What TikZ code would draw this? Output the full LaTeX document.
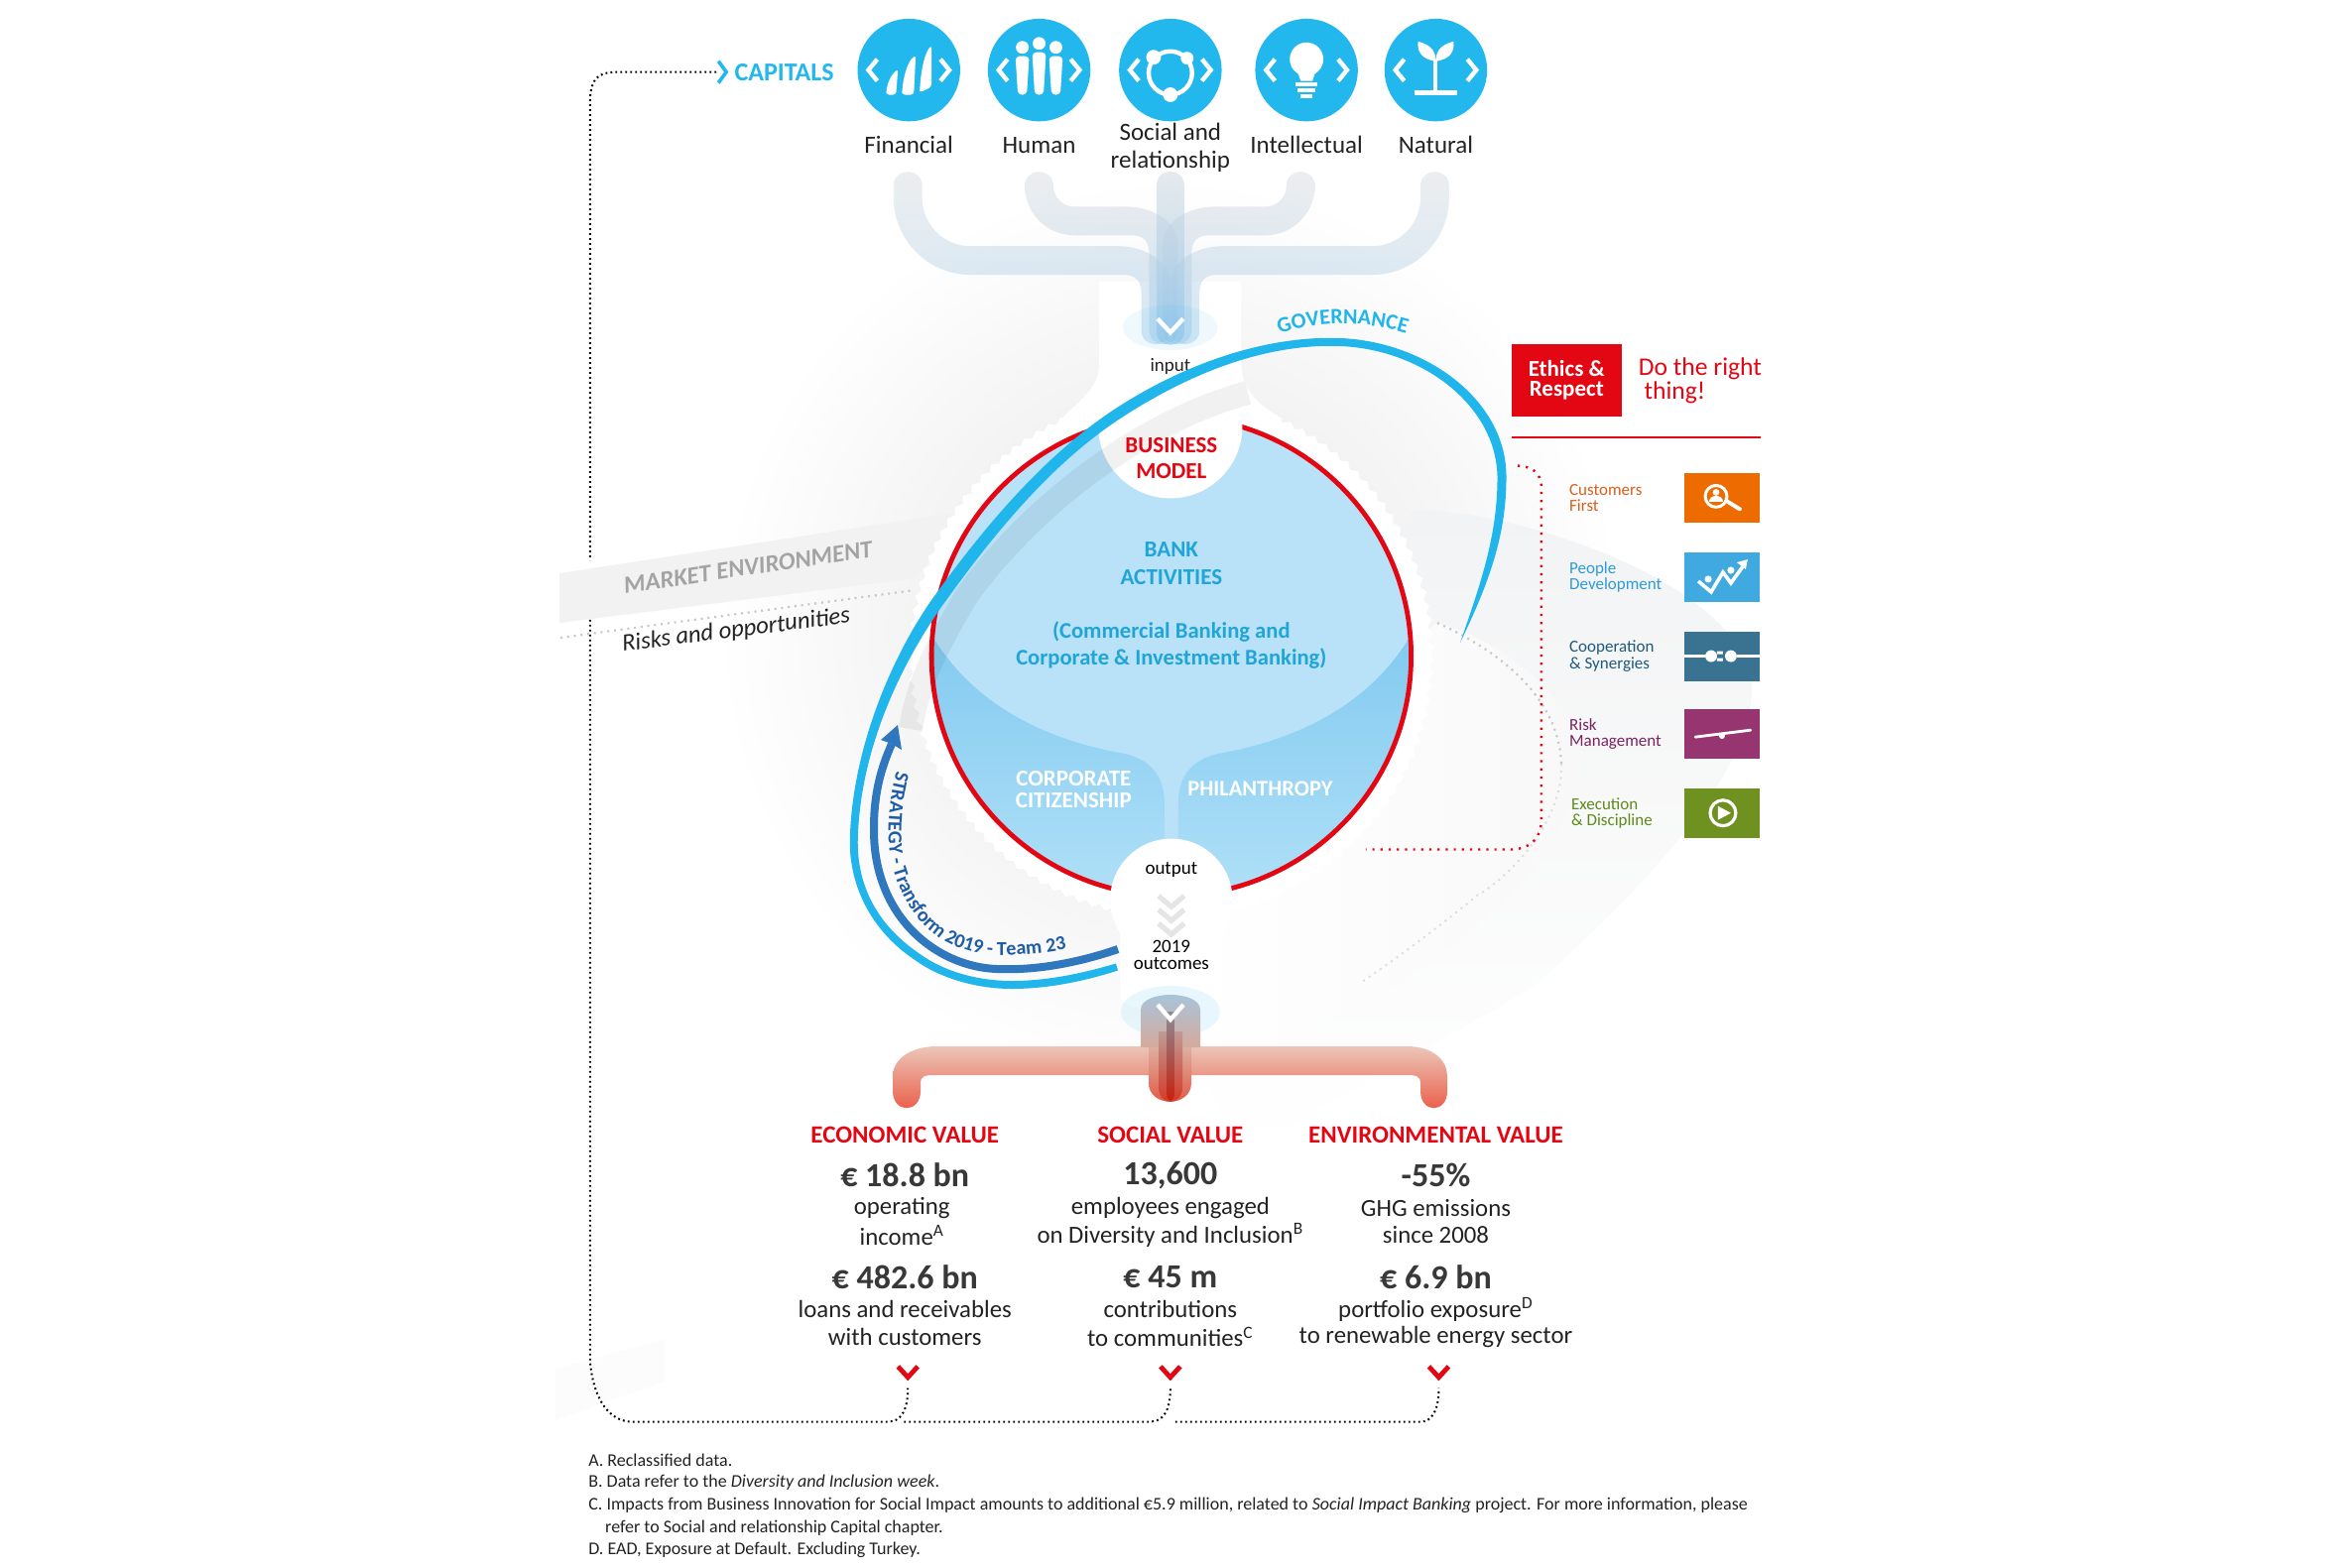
\documentclass[tikz,border=0pt]{standalone}
\usepackage{fontspec}
\setmainfont{Carlito}
\usetikzlibrary{decorations.text,decorations.pathmorphing,calc}
\definecolor{capblue}{HTML}{22B8EE}
\definecolor{gov}{HTML}{20B6EC}
\definecolor{strat}{HTML}{2F78BE}
\definecolor{strattxt}{HTML}{1E5CA6}
\definecolor{ured}{HTML}{E30613}
\definecolor{lightbowl}{HTML}{B9E1F8}
\definecolor{lowtop}{HTML}{82CAF0}
\definecolor{lowbot}{HTML}{B0E0F7}
\definecolor{txtdark}{HTML}{222222}
\definecolor{bgrey}{HTML}{F2F3F4}
\definecolor{bgin}{HTML}{F8F8F8}
\definecolor{pa}{HTML}{D2D5D9}
\definecolor{pb}{HTML}{CFDFEB}
\definecolor{pc}{HTML}{96C8EC}
\definecolor{pd}{HTML}{D5DBE0}
\definecolor{pe}{HTML}{8CC3EB}
\definecolor{ra}{HTML}{EBC6B8}
\definecolor{rb}{HTML}{EB5844}
\definecolor{rc}{HTML}{A4C6E0}
\definecolor{rd}{HTML}{D6AA9B}
\definecolor{re}{HTML}{DEAFA0}
\definecolor{rf}{HTML}{E2523E}
\definecolor{rg}{HTML}{BE9B96}
\definecolor{rh}{HTML}{D7321E}
\definecolor{ri}{HTML}{8C8C96}
\definecolor{rj}{HTML}{C81E0A}
\definecolor{orangeb}{HTML}{EE6B00}
\definecolor{blueb}{HTML}{3FA9E0}
\definecolor{tealb}{HTML}{3A7391}
\definecolor{purpb}{HTML}{963570}
\definecolor{greenb}{HTML}{6E9120}
\definecolor{tA}{HTML}{D9601A}
\definecolor{tB}{HTML}{2E9BD6}
\definecolor{tC}{HTML}{1F5A7A}
\definecolor{tD}{HTML}{7B2463}
\definecolor{tE}{HTML}{5F8A1C}
\newcommand\fs[1]{\fontsize{#1}{#1}\selectfont}
\tikzset{
 vhead/.style={inner sep=0pt,align=center,text=ured,font=\fs{12.5}\bfseries},
 big/.style={inner sep=0pt,align=center,text=txtdark!90,font=\fs{17}\bfseries},
 desc/.style={inner sep=0pt,align=center,text=txtdark,font=\fs{12.4}},
 capl/.style={inner sep=0pt,align=center,text=txtdark,font=\fs{12.5}},
 foot/.style={inner sep=0pt,anchor=west,text=txtdark,font=\fs{9}},
 side/.style={inner sep=0pt,anchor=west,align=left,font=\fs{8.5}},
 blk/.style={black,line width=1pt,dash pattern=on .9pt off 1.6pt},
 reddot/.style={ured,line width=1.2pt,dash pattern=on 1.1pt off 3pt},
 gdot/.style={black!22,line width=1.1pt,dash pattern=on 1pt off 2.4pt},
 gdotb/.style={black!13,line width=1pt,dash pattern=on 1pt off 2.4pt},
 chev/.style={white,line width=2.2pt,line join=miter},
 rchev/.style={ured,line width=2.4pt,line join=miter},
 pchev/.style={black!10,line width=2.6pt,line join=miter},
 actual/.style={x=.5pt,y=-.5pt},
}
% pipe outline: style, x0, yh, xs, w, ytop, R, ybot
\newcommand\pipe[8]{%
 \pgfmathsetmacro\hw{#5/2}
 \pgfmathsetmacro\sg{ifthenelse(#4>#2,1,-1)}
 \pgfmathsetmacro\xA{#2-\sg*\hw}
 \pgfmathsetmacro\xB{#2+\sg*\hw}
 \pgfmathsetmacro\xC{#4-\sg*\hw}
 \pgfmathsetmacro\xD{#4+\sg*\hw}
 \pgfmathsetmacro\ra{#7-#5}
 \pgfmathsetmacro\yU{#3-\hw}
 \pgfmathsetmacro\yL{#3+\hw}
 \pgfmathsetmacro\yT{#6+\hw}
 \pgfmathsetmacro\yTT{#6-.33*\hw}
 \pgfmathsetmacro\yB{#8-\hw}
 \pgfmathsetmacro\yBB{#8+.33*\hw}
 \shade[#1] (\xA,\yT) .. controls (\xA,\yTT) and (\xB,\yTT) .. (\xB,\yT)
  -- (\xB,{\yU-\ra}) .. controls (\xB,{\yU-.45*\ra}) and ({\xB+\sg*.45*\ra},\yU) .. ({\xB+\sg*\ra},\yU)
  -- ({\xC-\sg*22},\yU) .. controls ({\xC-\sg*2},\yU) and (\xD,{\yU+12}) .. (\xD,{\yL+8})
  -- (\xD,\yB) .. controls (\xD,\yBB) and (\xC,\yBB) .. (\xC,\yB)
  -- (\xC,{\yL+18}) .. controls (\xC,{\yL+6}) and ({\xC-\sg*6},\yL) .. ({\xC-\sg*18},\yL)
  -- ({\xA+\sg*#7},\yL) .. controls ({\xA+\sg*.45*#7},\yL) and (\xA,{\yL-.45*#7}) .. (\xA,{\yL-#7}) -- cycle;
}
\begin{document}
\begin{tikzpicture}[x=.4974pt,y=-.4974pt]
\useasboundingbox (0,0) rectangle (2372.3,1588.3);
% ---------- background ----------
\shade[inner color=black!10,outer color=white] (1187,640) circle (460);
\begin{scope}[actual]
\shade[top color=bgrey,middle color=bgrey,bottom color=white] (1427,513) .. controls (1560,520) and (1770,600) .. (1766,699)
  .. controls (1760,790) and (1650,900) .. (1552,990)
  .. controls (1490,1030) and (1373,1092) .. (1253,1163)
  -- (1212,1082) -- (1200,800) -- cycle;
\shade[left color=white,right color=bgin] (1449,628) .. controls (1530,650) and (1595,720) .. (1592,766)
  .. controls (1590,850) and (1500,950) .. (1329,1036)
  -- (1205,1090) -- (1205,800) -- cycle;
\draw[gdot] (1449,628) .. controls (1530,665) and (1572,715) .. (1574,770);
\draw[gdotb] (1574,770) .. controls (1576,830) and (1520,885) .. (1489,903) .. controls (1450,935) and (1410,965) .. (1373,990);
\fill[black!1.3] (560,1380) -- (670,1350) -- (670,1393) -- (560,1432) -- cycle;
% market band
\fill[black!5] (564,578) -- (963,517) -- (925,583) -- (564,628) -- cycle;
\end{scope}
% ---------- ring and columns ----------
\fill[white,decorate,decoration={zigzag,segment length=7pt,amplitude=1.2pt}] (1187,665) circle (264);
\fill[white] (1114,285) -- (1114,370) .. controls (1112,395) and (1095,405) .. (1075,425) -- (1300,425) .. controls (1275,410) and (1258,395) .. (1258,370) -- (1258,285) -- cycle;
\fill[white] (1135,900) -- (1238,900) -- (1238,1010) .. controls (1238,1030) and (1135,1030) .. (1135,1010) -- cycle;
\begin{scope}[actual]
\coordinate (gda) at (565,643);
\coordinate (gdb) at (922,595);
\draw[gdot] (gda) -- (gdb);
\end{scope}
% black dotted return line
\coordinate (capEnd) at (726,73);
\coordinate (econ) at (920,1407);
\coordinate (soc) at (1186,1407);
\coordinate (env) at (1458,1407);
\draw[blk] (capEnd) -- (625,73) .. controls (606,73) and (599,80) .. (598,100) -- (598,568);
\draw[blk] (598,628) -- (598,1380) .. controls (601,1416) and (616,1441) .. (641,1441) -- (900,1441) .. controls (912,1441) and (920,1431) .. (econ);
\draw[blk] (916,1441) -- (1165,1441) .. controls (1178,1441) and (1186,1431) .. (soc);
\draw[blk] (1191,1441) -- (1440,1441) .. controls (1450,1441) and (1458,1431) .. (env);
% ---------- business oval ----------
\begin{scope}
 \clip (1187,665) circle (243);
 \fill[lightbowl] (900,400) rectangle (1470,930);
 \shade[top color=lowtop,bottom color=lowbot]
  (942,640) .. controls (985,715) and (1060,750) .. (1140,764) .. controls (1165,770) and (1180,785) .. (1180,815) -- (1180,910) -- (930,910) -- (930,640) -- cycle;
 \shade[top color=lowtop,bottom color=lowbot]
  (1432,640) .. controls (1389,715) and (1314,750) .. (1234,764) .. controls (1209,770) and (1194,785) .. (1194,815) -- (1194,910) -- (1444,910) -- (1444,640) -- cycle;
\end{scope}
\draw[ured,line width=2.4pt] (1187,665) circle (243);
\fill[white] (1186,432) circle (73);
\fill[white] (1187,912) circle (62);
\begin{scope}[actual]
\draw[black,opacity=.055,line width=12pt,line cap=butt] (1258,396) .. controls (1150,425) and (1040,510) .. (975,600) .. controls (945,650) and (925,690) .. (918,735);
\end{scope}
% ---------- top pipes ----------
\tikzset{gp/.style={top color=pa,middle color=pb,bottom color=pc,opacity=.42}}
\pipe{gp}{920}{264}{1171}{29}{174}{78}{349}
\pipe{gp}{1454}{264}{1201}{29}{174}{78}{349}
\pipe{gp}{1053}{224}{1179}{29}{174}{50}{349}
\pipe{gp}{1318}{224}{1193}{29}{174}{50}{349}
\shade[top color=pd,bottom color=pe,opacity=.6] (1172,188) .. controls (1172,169) and (1200,169) .. (1200,188) -- (1200,336) .. controls (1200,354) and (1172,354) .. (1172,336) -- cycle;
\fill[capblue,opacity=.07] (1186,332) ellipse (48 and 23);
\draw[chev] (1173,323) -- (1186,337) -- (1199,323);
% ---------- icons ----------
\foreach \cx/\nm/\lab in {921/cFin/Financial,1053/cHum/Human,1324/cInt/Intellectual,1455/cNat/Natural}{
 \node[capl] (\nm) at (\cx,147) {\lab};
}
\node[capl] (cSoc) at (1186,150) {Social and\\[1.5pt]relationship};
\foreach \cx in {921,1053,1186,1324,1455}{
 \fill[capblue] (\cx,71) circle (52);
 \draw[chev] ({\cx-32},60) -- ({\cx-41},71) -- ({\cx-32},82);
 \draw[chev] ({\cx+32},60) -- ({\cx+41},71) -- ({\cx+32},82);
}
% financial
\fill[white,rounded corners=1.5pt] (898,96) -- (908,96) -- (910,70) .. controls (903,76) and (899,84) .. (898,96) -- cycle;
\fill[white,rounded corners=1.5pt] (914,96) -- (926,96) -- (928,56) .. controls (920,62) and (915,78) .. (914,96) -- cycle;
\fill[white,rounded corners=1.5pt] (932,94) -- (944,88) -- (944,46) .. controls (937,54) and (933,72) .. (932,94) -- cycle;
% human
\foreach \dx/\yy in {-17/48,0/44,17/48}{
 \fill[white] ({1053+\dx},\yy) circle (6.5);
 \fill[white,rounded corners=2pt] ({1053+\dx-7},{\yy+9}) -- ({1053+\dx+7},{\yy+9}) -- ({1053+\dx+4.5},96) -- ({1053+\dx-4.5},96) -- cycle;
}
% social
\draw[white,line width=2.2pt] (1186,74) circle (22);
\fill[white] (1169,58) circle (7.5) (1203,59) circle (6.5) (1186,96) circle (7.5);
% bulb
\fill[white] (1324,60) circle (17);
\fill[white] (1314,70) -- (1334,70) -- (1330,82) -- (1318,82) -- cycle;
\draw[white,line width=2pt] (1313,85) -- (1335,85) (1315,91) -- (1333,91) (1318,97) -- (1330,97);
% plant
\draw[white,line width=2.2pt] (1433,94) -- (1477,94);
\draw[white,line width=2pt] (1455,94) -- (1455,60);
\fill[white] (1455,62) .. controls (1440,60) and (1436,52) .. (1437,42) .. controls (1448,45) and (1455,50) .. (1455,62) -- cycle;
\fill[white] (1455,62) .. controls (1470,60) and (1474,52) .. (1473,42) .. controls (1462,45) and (1455,50) .. (1455,62) -- cycle;
% capitals
\node[inner sep=0pt,anchor=west,text=capblue,font=\fs{13}\bfseries] (capt) at (744,73) {CAPITALS};
\coordinate (ca) at (728,62); \coordinate (cb) at (736,73); \coordinate (cc) at (728,84);
\draw[capblue,line width=1.8pt] (ca) -- (cb) -- (cc);
\node[inner sep=0pt,font=\fs{9.5},text=txtdark] (inp) at (1186,371) {input};
% ---------- market env text ----------
\node[inner sep=0pt,rotate=8.4,text=black!36,font=\fs{12.4}\bfseries\itshape] (mkt) at (758,575) {MARKET ENVIRONMENT};
\node[inner sep=0pt,rotate=7.2,text=txtdark,font=\fs{12.3}\itshape] (risk) at (746,639) {Risks and opportunities};
% ---------- oval text ----------
\node[inner sep=0pt,align=center,text=ured,font=\fs{11.5}\bfseries] (bm) at (1187,464) {BUSINESS\\[1.5pt]MODEL};
\node[inner sep=0pt,align=center,text=capblue!90!black,font=\fs{11.5}\bfseries] (bank) at (1187,571) {BANK\\[2.4pt]ACTIVITIES};
\node[inner sep=0pt,align=center,text=capblue!90!black,font=\fs{11.3}\bfseries] (comm) at (1187,654) {(Commercial Banking and\\[2.4pt]Corporate \& Investment Banking)};
\node[inner sep=0pt,align=center,text=white,font=\fs{11.5}\bfseries] (cc1) at (1088,800) {CORPORATE\\[-.2pt]CITIZENSHIP};
\node[inner sep=0pt,text=white,font=\fs{11.2}\bfseries] (phil) at (1277,799) {PHILANTHROPY};
\node[inner sep=0pt,font=\fs{9.5},text=black] (outp) at (1187,882) {output};
\foreach \yy in {908,922,936}{ \draw[pchev] (1174,\yy) -- (1187,{\yy+11}) -- (1200,\yy); }
\node[inner sep=0pt,align=center,font=\fs{9.5},text=black] (outc) at (1187,968) {2019\\[-1pt]outcomes};
% ---------- bottom pipes ----------
\begin{scope}[actual]
\fill[capblue,opacity=.1] (1180,1020) ellipse (50 and 26);
\shade[top color=ra,bottom color=rb]
 (900,1100) .. controls (900,1123) and (928,1123) .. (928,1100) -- (928,1092) .. controls (928,1086) and (931,1084) .. (941,1084)
 -- (1180,1084) -- (1180,1055) -- (945,1055) .. controls (915,1055) and (900,1070) .. (900,1085) -- cycle;
\shade[top color=ra,bottom color=rb]
 (1459,1100) .. controls (1459,1123) and (1432,1123) .. (1432,1100) -- (1432,1092) .. controls (1432,1086) and (1429,1084) .. (1419,1084)
 -- (1180,1084) -- (1180,1055) -- (1418,1055) .. controls (1446,1055) and (1459,1070) .. (1459,1085) -- cycle;
\shade[top color=rc,bottom color=rd]
 (1150,1056) -- (1150,1018) .. controls (1150,998) and (1210,998) .. (1210,1018) -- (1210,1056) -- cycle;
\shade[top color=re,bottom color=rf]
 (1158,1056) -- (1201,1056) -- (1201,1092) .. controls (1201,1117) and (1158,1117) .. (1158,1092) -- cycle;
\shade[top color=rg,bottom color=rh]
 (1168,1040) -- (1192,1040) -- (1192,1096) .. controls (1192,1116) and (1168,1116) .. (1168,1096) -- cycle;
\shade[top color=ri,bottom color=rj]
 (1176,1020) -- (1184,1020) -- (1184,1102) .. controls (1184,1112) and (1176,1112) .. (1176,1102) -- cycle;
\draw[chev] (1167,1013) -- (1180,1028) -- (1193,1013);
% ---------- governance ----------
\fill[gov] (1127,978.5)
 .. controls (1091,990) and (1055,997) .. (1020,997)
 .. controls (984,997) and (947,986) .. (922.7,968.2)
 .. controls (877,938) and (854,890) .. (857,840)
 .. controls (861,750) and (900,661.6) .. (938,606.6)
 .. controls (995,526.6) and (1057,455.4) .. (1127,410.4)
 .. controls (1197,365.4) and (1278,338) .. (1352,341)
 .. controls (1440,345) and (1518.5,405) .. (1518.5,480)
 .. controls (1519,540) and (1500,590) .. (1472,648)
 .. controls (1492,590) and (1510,540) .. (1509.5,480)
 .. controls (1508,410) and (1436,353) .. (1352,349)
 .. controls (1278,346) and (1203,374.6) .. (1133,419.6)
 .. controls (1063,464.6) and (1005,533.4) .. (948,613.4)
 .. controls (910,668.4) and (869,750) .. (865,840)
 .. controls (862,890) and (883,932) .. (927.3,961.8)
 .. controls (952,979.8) and (986,989) .. (1020,989)
 .. controls (1055,989) and (1089,982) .. (1125,971.5) -- cycle;
\path[decorate,decoration={text along path,text align=left,text={|\fs{11}\bfseries\color{gov}|GOVERNANCE}}]
 (1290,337) .. controls (1330,323) and (1380,323) .. (1424,338);
% ---------- strategy ----------
\draw[strat,line width=4pt] (1127,957) .. controls (1095,968) and (1050,979) .. (1005,977) .. controls (945,975) and (880,925) .. (881,835) .. controls (881,800) and (888,775) .. (899,750);
\fill[strat] (905,731) -- (909,756) -- (899,750) -- (888,746) -- cycle;
\path[decorate,decoration={text along path,text align=left,text={|\fs{10}\bfseries\color{strattxt}|STRATEGY - Transform 2019 - Team 23}}]
 (904,777) .. controls (895,810) and (893,850) .. (900,875) .. controls (908,905) and (929,943) .. (968,956) .. controls (987,963) and (1005,965) .. (1023,963) .. controls (1045,962) and (1065,960) .. (1095,952);
\end{scope}
% ---------- ethics ----------
\node[fill=ured,minimum width=55.5pt,minimum height=36.5pt,inner sep=0pt,align=center,text=white,font=\fs{11.5}\bfseries] (eth) at (1587.5,385.5) {Ethics \&\\[-1.5pt]Respect};
\node[inner sep=0pt,anchor=west,align=left,text=ured,font=\fs{12.8}] (right) at (1660,386) {Do the right\\[-1pt]\ thing!};
\coordinate (rl) at (1532,443); \coordinate (rr) at (1784,443);
\draw[ured,line width=.8pt] (rl) -- (rr);
\node[fill=orangeb,minimum width=38pt,minimum height=25pt,inner sep=0pt] (bA) at (1745.5,505) {};
\node[fill=blueb,minimum width=38pt,minimum height=25pt,inner sep=0pt] (bB) at (1745.5,585) {};
\node[fill=tealb,minimum width=38pt,minimum height=25pt,inner sep=0pt] (bC) at (1745.5,665) {};
\node[fill=purpb,minimum width=38pt,minimum height=25pt,inner sep=0pt] (bD) at (1745.5,744) {};
\node[fill=greenb,minimum width=38pt,minimum height=25pt,inner sep=0pt] (bE) at (1745.5,824) {};
\node[side,text=tA] (lA) at (1590,505) {Customers\\[-.4pt]First};
\node[side,text=tB] (lB) at (1590,585) {People\\[-.4pt]Development};
\node[side,text=tC] (lC) at (1590,665) {Cooperation\\[-.4pt]\& Synergies};
\node[side,text=tD] (lD) at (1590,744) {Risk\\[-.4pt]Management};
\node[side,text=tE] (lE) at (1592,824) {Execution\\[-.4pt]\& Discipline};
% box icons
\draw[white,line width=1.5pt] (1739,503) circle (11);
\fill[white] (1739,499) circle (3.4);
\fill[white] (1732,509) .. controls (1732,501) and (1746,501) .. (1746,509) -- cycle;
\draw[white,line width=2pt,line cap=round] (1750,508) -- (1763,516);
\draw[white,line width=1.8pt,line join=miter] (1721,589) -- (1734,600) -- (1746,580) -- (1754,591) -- (1767,573);
\fill[white] (1771,567) -- (1760,570) -- (1769,577) -- cycle;
\fill[white] (1731,587) circle (3.6) (1754,578) circle (3.6);
\draw[white,line width=1.2pt] (1707,665) -- (1728,665) (1760,665) -- (1784,665);
\fill[white,rounded corners=3pt] (1728,659) -- (1740,659) -- (1740,671) -- (1728,671) -- cycle;
\fill[white] (1740,660) rectangle (1746,663) (1740,667) rectangle (1746,670);
\fill[white,rounded corners=3pt] (1748,659) -- (1760,659) -- (1760,671) -- (1748,671) -- cycle;
\draw[white,line width=1.4pt,line cap=round] (1718,747) -- (1774,740);
\fill[white] (1745,746) circle (3);
\draw[white,line width=1.6pt] (1746,824) circle (13);
\fill[white] (1741,817) -- (1741,831) -- (1754,824) -- cycle;
% red dotted
\coordinate (rs) at (1538,472);
\coordinate (re) at (1384,861);
\draw[reddot] (rs) .. controls (1552,473) and (1562,478) .. (1562,495) -- (1562,830) .. controls (1562,852) and (1548,861) .. (1530,861) -- (re);
% ---------- bottom text ----------
\node[vhead] (h1) at (917,1150) {ECONOMIC VALUE};
\node[vhead] (h2) at (1186,1150) {SOCIAL VALUE};
\node[vhead] (h3) at (1455,1150) {ENVIRONMENTAL VALUE};
\node[big] (b1) at (917,1191) {€ 18.8 bn};
\node[big] (b2) at (1186,1191) {13,600};
\node[big] (b3) at (1455,1191) {-55\%};
\node[desc] (d1) at (914,1224) {operating};
\node[desc] (d1b) at (914,1252) {income\textsuperscript{A}};
\node[desc] (d2) at (1186,1224) {employees engaged};
\node[desc] (d2b) at (1186,1252) {on Diversity and Inclusion\textsuperscript{B}};
\node[desc] (d3) at (1455,1224) {GHG emissions};
\node[desc] (d3b) at (1455,1252) {since 2008};
\node[big] (e1) at (917,1294) {€ 482.6 bn};
\node[big] (e2) at (1186,1294) {€ 45 m};
\node[big] (e3) at (1455,1294) {€ 6.9 bn};
\node[desc] (f1) at (917,1327) {loans and receivables};
\node[desc] (f1b) at (917,1355) {with customers};
\node[desc] (f2) at (1186,1327) {contributions};
\node[desc] (f2b) at (1186,1355) {to communities\textsuperscript{C}};
\node[desc] (f3) at (1455,1327) {portfolio exposure\textsuperscript{D}};
\node[desc] (f3b) at (1455,1355) {to renewable energy sector};
\foreach \xx in {920,1186,1458}{ \draw[rchev] ({\xx-10},1385) -- (\xx,1396) -- ({\xx+10},1385); }
% ---------- footnotes ----------
\node[foot] (n1) at (596,1480) {A. Reclassified data.};
\node[foot] (n2) at (596,1502) {B. Data refer to the \textit{Diversity and Inclusion week}.};
\node[foot] (n3) at (596,1526) {C. Impacts from Business Innovation for Social Impact amounts to additional €5.9 million, related to \textit{Social Impact Banking} project. For more information, please};
\node[foot] (n4) at (613,1549) {refer to Social and relationship Capital chapter.};
\node[foot] (n5) at (596,1571) {D. EAD, Exposure at Default. Excluding Turkey.};
\end{tikzpicture}
\end{document}
